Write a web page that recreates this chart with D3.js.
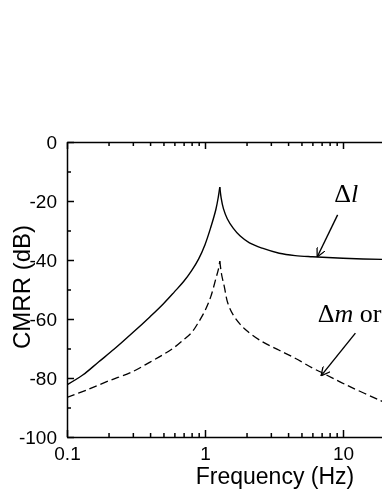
<!DOCTYPE html>
<meta charset="utf-8">
<html>
    <head>
        <style type="text/css">
            body { margin:0; position:fixed; top:0; right:0; bottom:0; left:0; background:#fff; }
            svg { width: 382px; height: 494px; }
            .tickText { font-family: "Liberation Sans", Arial, sans-serif; font-size: 19px; }
            .axisTitle { font-family: "Liberation Sans", Arial, sans-serif; }
            .note { font-family: "Liberation Serif", "Times New Roman", serif; font-size: 26px; }
        </style>
        <script src="https://d3js.org/d3.v7.min.js"></script>
    </head>
    <body>
        <svg></svg>
        <script type="text/javascript">
            // solid curve (delta l)
            var freqL = [0.1, 0.13, 0.17, 0.22, 0.3, 0.4, 0.5, 0.6, 0.7, 0.8, 0.9, 1.0, 1.1, 1.2, 1.25, 1.28,
                         1.31, 1.36, 1.45, 1.6, 1.8, 2.1, 2.6, 3.45, 4.5, 6.0, 10, 20, 100];
            var cmrrL = [-82.3, -79.0, -74.5, -70.2, -64.6, -59.2, -54.8, -50.8, -47.3, -43.6, -39.6, -34.8, -29.0, -22.8, -18.5, -15.3,
                         -19.0, -22.6, -26.0, -29.2, -31.9, -34.2, -36.0, -37.7, -38.5, -38.9, -39.4, -39.8, -40.0];
            // dashed curve (delta m or ...)
            var freqM = [0.1, 0.14, 0.2, 0.3, 0.4, 0.5, 0.6, 0.7, 0.8, 0.9, 1.0, 1.1, 1.2, 1.25, 1.28,
                         1.32, 1.38, 1.46, 1.6, 1.8, 2.0, 2.6, 3.45, 4.5, 6.0, 7.1, 10.5, 18.4, 30];
            var cmrrM = [-86.6, -84.0, -81.0, -77.8, -74.6, -72.0, -69.6, -67.0, -64.6, -61.0, -57.2, -52.5, -46.2, -43.2, -40.4,
                         -45.0, -49.0, -54.5, -58.6, -61.8, -63.9, -67.7, -70.6, -73.3, -76.6, -78.3, -82.3, -87.5, -91.8];

            var xTicks = [0.1, 1, 10, 100];
            var xTickLabels = ["0.1", "1", "10", ""];
            var xMinor = [0.2, 0.3, 0.4, 0.5, 0.6, 0.7, 0.8, 0.9, 2, 3, 4, 5, 6, 7, 8, 9, 20, 30, 40, 50, 60, 70, 80, 90];
            var yTicks = [0, -20, -40, -60, -80, -100];
            var yMinor = [-10, -30, -50, -70, -90];

            // label positions in data units: [freq, dB]
            var labelL = [8.65, -20.3];
            var arrowL = [[9.14, -24.7], [6.5, -39.0]];
            var labelM = [6.55, -60.9];
            var arrowM = [[12.3, -64.8], [6.93, -79.3]];

            var margin = {top: 142, left: 67, bottom: 57};
            var width = 382;
            var height = 494;

            var xScale = d3.scaleLog()
                .domain([0.1, 100])
                .range([margin.left, margin.left + 3 * 138]);

            var yScale = d3.scaleLinear()
                .domain([-100, 0])
                .range([height - margin.bottom, margin.top]);

            var svg = d3.select("svg")
                .attr("width", width)
                .attr("height", height);

            var defs = svg.append("defs");
            defs.append("clipPath")
                .attr("id", "plotClip")
                .append("rect")
                .attr("x", xScale(0.1))
                .attr("y", yScale(0))
                .attr("width", xScale(100) - xScale(0.1))
                .attr("height", yScale(-100) - yScale(0));

            defs.append("marker")
                .attr("id", "head")
                .attr("viewBox", "0 0 10 10")
                .attr("refX", 10)
                .attr("refY", 5)
                .attr("markerWidth", 9)
                .attr("markerHeight", 9)
                .attr("markerUnits", "userSpaceOnUse")
                .attr("orient", "auto")
                .append("path")
                .attr("d", "M0,0 L10,5 L0,10")
                .attr("fill", "none")
                .attr("stroke", "black")
                .attr("stroke-width", 1.4);

            // bottom axis
            var xAxis = d3.axisBottom(xScale)
                .tickValues(xTicks)
                .tickFormat((d, i) => xTickLabels[i])
                .tickSizeInner(-7)
                .tickSizeOuter(0)
                .tickPadding(10);
            svg.append("g")
                .attr("transform", "translate(0," + yScale(-100) + ")")
                .call(xAxis);
            svg.append("g")
                .attr("transform", "translate(0," + yScale(-100) + ")")
                .call(d3.axisBottom(xScale).tickValues(xMinor).tickFormat("").tickSizeInner(-4).tickSizeOuter(0))
                .select(".domain").remove();

            // top axis (ticks only)
            svg.append("g")
                .attr("transform", "translate(0," + yScale(0) + ")")
                .call(d3.axisTop(xScale).tickValues(xTicks).tickFormat("").tickSizeInner(-7).tickSizeOuter(0));
            svg.append("g")
                .attr("transform", "translate(0," + yScale(0) + ")")
                .call(d3.axisTop(xScale).tickValues(xMinor).tickFormat("").tickSizeInner(-4).tickSizeOuter(0))
                .select(".domain").remove();

            // left axis, plain hyphen for minus
            var yAxis = d3.axisLeft(yScale)
                .tickValues(yTicks)
                .tickFormat(d => String(d))
                .tickSizeInner(-7)
                .tickSizeOuter(0)
                .tickPadding(10);
            var gy = svg.append("g")
                .attr("transform", "translate(" + xScale(0.1) + ",0)")
                .call(yAxis);
            svg.append("g")
                .attr("transform", "translate(" + xScale(0.1) + ",0)")
                .call(d3.axisLeft(yScale).tickValues(yMinor).tickFormat("").tickSizeInner(-4).tickSizeOuter(0))
                .select(".domain").remove();

            svg.selectAll(".domain, .tick line")
                .attr("stroke", "black")
                .attr("stroke-width", 1.5);
            svg.selectAll(".tick text")
                .attr("class", "tickText")
                .attr("fill", "black");
            gy.selectAll(".tick text").attr("dy", "0.36em");

            var line = d3.line()
                .x(d => xScale(d[0]))
                .y(d => yScale(d[1]))
                .curve(d3.curveCatmullRom.alpha(0.5));

            // split each curve at its peak so the resonance stays a sharp cusp
            function branches(fs, vs) {
                var pts = d3.zip(fs, vs);
                var k = d3.maxIndex(vs);
                return [pts.slice(0, k + 1), pts.slice(k)];
            }

            var plot = svg.append("g").attr("clip-path", "url(#plotClip)");

            plot.selectAll(".solid")
                .data(branches(freqL, cmrrL))
                .enter().append("path")
                .attr("class", "solid")
                .attr("d", line)
                .attr("fill", "none")
                .attr("stroke", "black")
                .attr("stroke-width", 1.4);

            plot.selectAll(".dashed")
                .data(branches(freqM, cmrrM))
                .enter().append("path")
                .attr("class", "dashed")
                .attr("d", line)
                .attr("fill", "none")
                .attr("stroke", "black")
                .attr("stroke-width", 1.3)
                .attr("stroke-dasharray", "8,4");

            // annotations
            var tl = svg.append("text")
                .attr("class", "note")
                .attr("x", xScale(labelL[0]))
                .attr("y", yScale(labelL[1]));
            tl.append("tspan").text("Δ");
            tl.append("tspan").style("font-style", "italic").text("l");

            var tm = svg.append("text")
                .attr("class", "note")
                .attr("x", xScale(labelM[0]))
                .attr("y", yScale(labelM[1]));
            tm.append("tspan").text("Δ");
            tm.append("tspan").style("font-style", "italic").text("m");
            tm.append("tspan").text(" or");

            [arrowL, arrowM].forEach(a => {
                svg.append("line")
                    .attr("x1", xScale(a[0][0]))
                    .attr("y1", yScale(a[0][1]))
                    .attr("x2", xScale(a[1][0]))
                    .attr("y2", yScale(a[1][1]))
                    .attr("stroke", "black")
                    .attr("stroke-width", 1.4)
                    .attr("marker-end", "url(#head)");
            });

            // axis titles
            svg.append("text")
                .attr("class", "axisTitle")
                .attr("x", 275)
                .attr("y", 484)
                .style("font-size", "23px")
                .style("text-anchor", "middle")
                .text("Frequency (Hz)");

            svg.append("text")
                .attr("class", "axisTitle")
                .attr("transform", "translate(30,287) rotate(-90)")
                .style("font-size", "24px")
                .style("text-anchor", "middle")
                .text("CMRR (dB)");
        </script>
    </body>
</html>
